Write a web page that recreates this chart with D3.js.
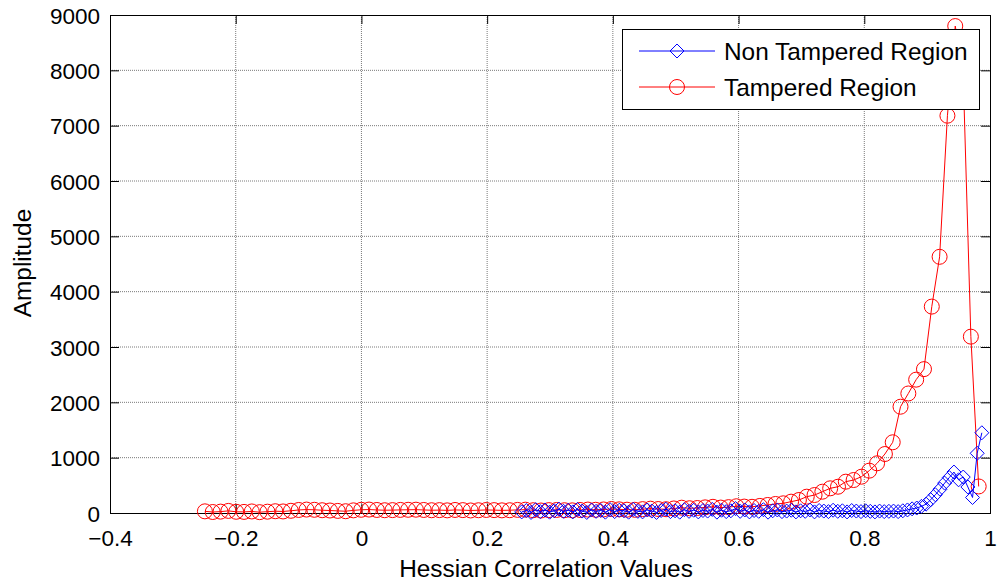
<!DOCTYPE html>
<html>
<head>
<meta charset="utf-8">
<script src="https://cdn.jsdelivr.net/npm/d3@7"></script>
<style>
  html, body { margin: 0; padding: 0; background: #fff; }
  svg { display: block; font-family: "Liberation Sans", Arial, Helvetica, sans-serif; }
</style>
</head>
<body>
<svg id="chart" width="1002" height="585"></svg>
<script>
// Histogram of Hessian correlation values, 100 bins per region.
// Bin centres are evenly spaced between the first and last centre.
const nonTamperedFirstBin = 0.255;
const nonTamperedLastBin = 0.987;
const tamperedFirstBin = -0.249;
const tamperedLastBin = 0.982;

// Amplitude (count) per bin
const nonTamperedCounts = [
  20, 45, 10, 60, 25, 55, 15, 40, 70, 30,
  50, 20, 65, 35, 10, 55, 30, 45, 15, 60,
  25, 50, 40, 15, 65, 30, 20, 55, 35, 10,
  45, 70, 25, 40, 15, 60, 30, 50, 20, 45,
  35, 65, 15, 50, 25, 40, 80, 30, 55, 20,
  45, 30, 60, 15, 40, 55, 25, 35, 50, 20,
  40, 30, 55, 20, 45, 35, 25, 50, 30, 40,
  20, 45, 35, 25, 40, 30, 20, 35, 25, 30,
  35, 25, 40, 55, 75,
  90, 120, 160, 240, 330, 430, 540, 640, 740, 600, 650, 470, 280, 1079, 1450
];
const tamperedCounts = [
  30, 18, 25, 38, 22, 20, 28, 15, 24, 32, 28, 40,
  55, 62, 58, 50, 45, 38, 32, 48, 58, 62, 55, 50,
  52, 56, 58, 60, 55, 50, 52, 48, 55, 52, 46, 50,
  55, 52, 48, 50, 56, 60, 50, 45, 52, 55, 50, 48,
  55, 62, 58, 64, 72, 66, 60, 58, 70, 78, 72, 68,
  82, 96, 86, 90, 102, 112, 98, 106, 122, 116, 112, 128,
  145, 163, 175, 205, 235, 295, 325, 385, 446, 475, 566, 596, 656, 765,
  898, 1066, 1278, 1921, 2160, 2410, 2600, 3730, 4630, 7180, 8800, 8000, 3187, 480
];

const xTicks = [-0.4, -0.2, 0, 0.2, 0.4, 0.6, 0.8, 1];
const yTicks = [0, 1000, 2000, 3000, 4000, 5000, 6000, 7000, 8000, 9000];
const seriesNames = ["Non Tampered Region", "Tampered Region"];

function binCentres(first, last, n) {
  const step = (last - first) / (n - 1);
  return d3.range(n).map(i => first + i * step);
}
const nonTampered = binCentres(nonTamperedFirstBin, nonTamperedLastBin, nonTamperedCounts.length)
  .map((x, i) => ({ x, y: nonTamperedCounts[i] }));
const tampered = binCentres(tamperedFirstBin, tamperedLastBin, tamperedCounts.length)
  .map((x, i) => ({ x, y: tamperedCounts[i] }));

const svg = d3.select("#chart");
const plot = { left: 110, right: 990, top: 15, bottom: 513 };
const x = d3.scaleLinear().domain([-0.4, 1]).range([plot.left, plot.right]);
const y = d3.scaleLinear().domain([0, 9000]).range([plot.bottom, plot.top]);
const tickLen = 9;
const tickFont = 22.5;
const titleFont = 24.4;

// dotted grid
const grid = svg.append("g").attr("stroke", "#7a7a7a").attr("stroke-width", 1)
  .attr("stroke-dasharray", "1,1");
grid.selectAll(".gx").data(xTicks.slice(1, -1)).join("line")
  .attr("x1", d => x(d)).attr("x2", d => x(d))
  .attr("y1", plot.top).attr("y2", plot.bottom);
grid.selectAll(".gy").data(yTicks.slice(1, -1)).join("line")
  .attr("y1", d => y(d)).attr("y2", d => y(d))
  .attr("x1", plot.left).attr("x2", plot.right);

// axes: labelled bottom / left, plain ticks on top / right, all pointing inward
const axisBottom = d3.axisBottom(x).tickValues(xTicks).tickSize(-tickLen).tickPadding(22)
  .tickFormat(d => d3.format("")(d));
const axisLeft = d3.axisLeft(y).tickValues(yTicks).tickSize(-tickLen).tickPadding(10)
  .tickFormat(d => d);
const axisTop = d3.axisTop(x).tickValues(xTicks).tickSize(-tickLen).tickFormat("");
const axisRight = d3.axisRight(y).tickValues(yTicks).tickSize(-tickLen).tickFormat("");

function styleAxis(g) {
  g.select(".domain").remove();
  g.selectAll(".tick line").attr("stroke", "#000");
  g.selectAll("text").attr("fill", "#000").style("font-size", tickFont + "px")
    .style("font-family", "'Liberation Sans', Arial, sans-serif");
}
svg.append("g").attr("transform", `translate(0,${plot.bottom})`).call(axisBottom).call(styleAxis)
  .selectAll("text").attr("dy", "0.5em");
svg.append("g").attr("transform", `translate(${plot.left},0)`).call(axisLeft).call(styleAxis)
  .selectAll(".tick text").attr("dy", "0.36em");
svg.append("g").attr("transform", `translate(0,${plot.top})`).call(axisTop).call(styleAxis);
svg.append("g").attr("transform", `translate(${plot.right},0)`).call(axisRight).call(styleAxis);

// box
svg.append("rect").attr("x", plot.left + 0.5).attr("y", plot.top + 0.5)
  .attr("width", plot.right - plot.left).attr("height", plot.bottom - plot.top)
  .attr("fill", "none").attr("stroke", "#000").attr("stroke-width", 1);

// series
const line = d3.line().x(d => x(d.x)).y(d => y(d.y));
const diamond = (cx, cy, r) => `M${cx},${cy - r}L${cx + r},${cy}L${cx},${cy + r}L${cx - r},${cy}Z`;

const gRed = svg.append("g");
gRed.append("path").datum(tampered).attr("d", line)
  .attr("fill", "none").attr("stroke", "#ff0000").attr("stroke-width", 1);
gRed.selectAll("circle").data(tampered).join("circle")
  .attr("cx", d => x(d.x)).attr("cy", d => y(d.y)).attr("r", 7.5)
  .attr("fill", "none").attr("stroke", "#ff0000").attr("stroke-width", 1);

const gBlue = svg.append("g");
gBlue.append("path").datum(nonTampered).attr("d", line)
  .attr("fill", "none").attr("stroke", "#0000ff").attr("stroke-width", 1);
gBlue.selectAll("path.m").data(nonTampered).join("path").attr("class", "m")
  .attr("d", d => diamond(x(d.x), y(d.y), 7))
  .attr("fill", "none").attr("stroke", "#0000ff").attr("stroke-width", 1);

// legend
const lg = svg.append("g");
lg.append("rect").attr("x", 622.5).attr("y", 29.5).attr("width", 357).attr("height", 80)
  .attr("fill", "#fff").attr("stroke", "#000").attr("stroke-width", 1);
const rows = [
  { name: seriesNames[0], color: "#0000ff", marker: "diamond", y: 51 },
  { name: seriesNames[1], color: "#ff0000", marker: "circle", y: 87 }
];
rows.forEach(r => {
  lg.append("line").attr("x1", 639).attr("x2", 715).attr("y1", r.y).attr("y2", r.y)
    .attr("stroke", r.color).attr("stroke-width", 1);
  if (r.marker === "circle") {
    lg.append("circle").attr("cx", 677).attr("cy", r.y).attr("r", 7.5)
      .attr("fill", "none").attr("stroke", r.color);
  } else {
    lg.append("path").attr("d", diamond(677, r.y, 7)).attr("fill", "none").attr("stroke", r.color);
  }
  lg.append("text").attr("x", 724).attr("y", r.y).attr("dy", "0.35em")
    .style("font-size", titleFont + "px").attr("fill", "#000").text(r.name);
});

// axis titles
svg.append("text").attr("x", 546).attr("y", 568).attr("dy", "0.35em").attr("text-anchor", "middle")
  .style("font-size", titleFont + "px").text("Hessian Correlation Values");
svg.append("text").attr("transform", "translate(22,263) rotate(-90)").attr("dy", "0.35em")
  .attr("text-anchor", "middle").style("font-size", titleFont + "px").text("Amplitude");
</script>
</body>
</html>
